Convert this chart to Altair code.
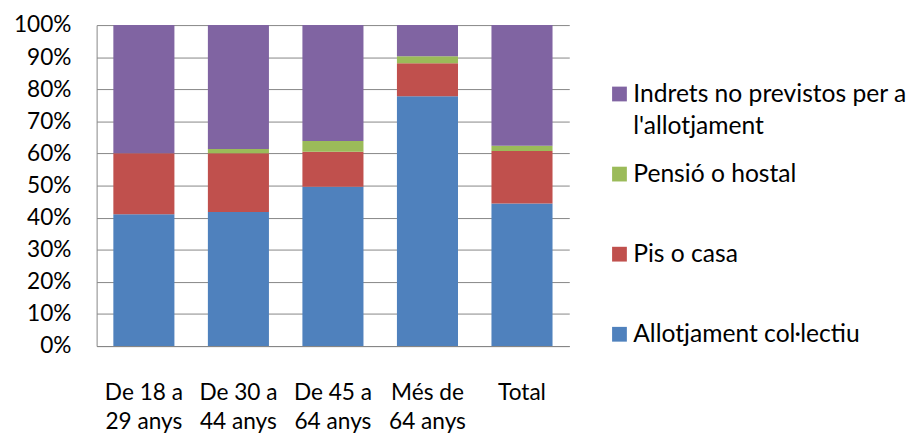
import altair as alt
import pandas as pd

categories = ["De 18 a\n29 anys", "De 30 a\n44 anys", "De 45 a\n64 anys", "Més de\n64 anys", "Total"]
series = ["Allotjament col·lectiu", "Pis o casa", "Pensió o hostal",
          "Indrets no previstos per a l'allotjament"]
legend_line1 = ["Allotjament col·lectiu", "Pis o casa", "Pensió o hostal", "Indrets no previstos per a"]
legend_line2 = ["", "", "", "l'allotjament"]
colors = ["#4F81BD", "#C0504D", "#9BBB59", "#8064A2"]

allotjament = [41.1, 41.8, 49.6, 77.8, 44.4]
pis_casa = [19.0, 18.3, 10.9, 10.3, 16.4]
pensio = [0.0, 1.3, 3.4, 2.2, 1.6]
indrets = [39.9, 38.6, 36.1, 9.7, 37.6]

y_ticks = [0, 10, 20, 30, 40, 50, 60, 70, 80, 90, 100]

FONT = "Lato"
FS = 23
LFS = 25
GRID = "#868686"

rows = []
for si, (name, vals) in enumerate(zip(series, [allotjament, pis_casa, pensio, indrets])):
    for ci, cat in enumerate(categories):
        rows.append({"categoria": cat, "serie": name, "ordre": si, "valor": vals[ci]})
df = pd.DataFrame(rows)

color_scale = alt.Scale(domain=series, range=colors)

bars = alt.Chart(df).mark_bar().encode(
    x=alt.X("categoria:N", sort=categories, title=None,
            scale=alt.Scale(paddingInner=0.354, paddingOuter=0.177),
            axis=alt.Axis(labelAngle=0, labelExpr="split(datum.label, '\\n')",
                          labelPadding=36, labelLineHeight=30, ticks=False,
                          domainColor=GRID, labelFont=FONT, labelFontSize=FS,
                          labelColor="#000000")),
    y=alt.Y("valor:Q", stack="zero", title=None,
            scale=alt.Scale(domain=[0, 100], nice=False),
            axis=alt.Axis(values=y_ticks, labelExpr="datum.value + '%'",
                          ticks=False, labelPadding=26, grid=True,
                          gridColor=GRID, domainColor=GRID,
                          labelFont=FONT, labelFontSize=FS, labelColor="#000000")),
    color=alt.Color("serie:N", scale=color_scale, legend=None),
    order=alt.Order("ordre:Q"),
).properties(width=480, height=326)

leg_df = pd.DataFrame({"serie": series, "l1": legend_line1, "l2": legend_line2})
leg_order = list(reversed(series))
ly = alt.Y("serie:N", sort=leg_order, axis=None,
           scale=alt.Scale(range=[70, 314], padding=0))

leg_sym = alt.Chart(leg_df).mark_square(size=225, opacity=1).encode(
    x=alt.value(51), y=ly,
    color=alt.Color("serie:N", scale=color_scale, legend=None))
leg_t1 = alt.Chart(leg_df).mark_text(align="left", baseline="middle", font=FONT,
                                     fontSize=LFS, color="#000000").encode(
    x=alt.value(65), y=ly, text="l1:N")
leg_t2 = alt.Chart(leg_df).mark_text(align="left", baseline="middle", font=FONT,
                                     fontSize=LFS, color="#000000", dy=33).encode(
    x=alt.value(65), y=ly, text="l2:N")
legend = alt.layer(leg_sym, leg_t1, leg_t2).properties(width=330, height=326)

chart = alt.hconcat(bars, legend, spacing=0).properties(
    padding={"top": 3, "left": 5, "right": 0, "bottom": 0}
).configure_view(stroke=None).configure_axis(domainWidth=1, gridWidth=1)

chart.save("out.html", embed_options={"renderer": "svg", "actions": False})
